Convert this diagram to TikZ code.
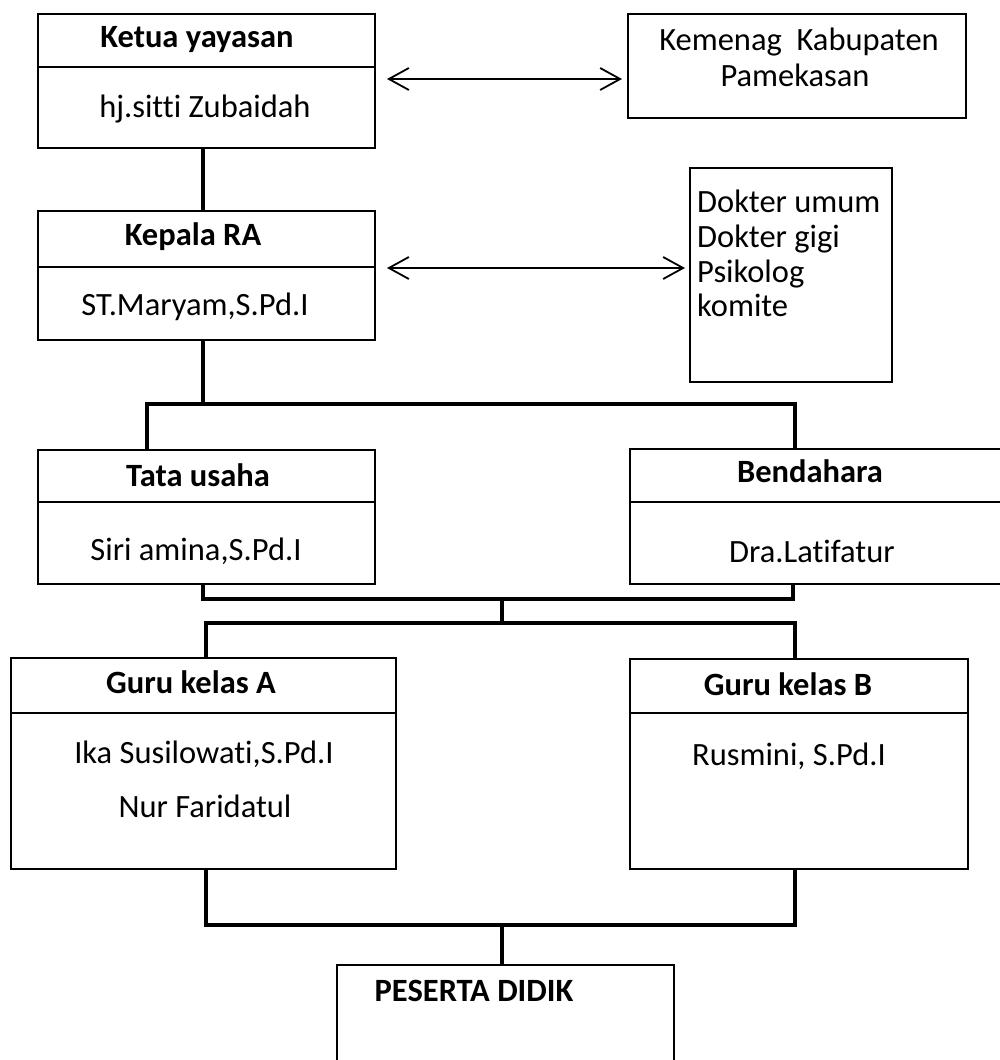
\documentclass[tikz,border=0pt]{standalone}
\usepackage{fontspec}
\setmainfont{Carlito}[Ligatures=NoCommon]
\usetikzlibrary{arrows.meta}
\begin{document}
\begin{tikzpicture}[x=1pt,y=-1pt,
  box/.style={draw, line width=2pt, anchor=north west, inner sep=0pt, outer sep=0pt},
  conn/.style={line width=4pt, line join=miter},
  link/.style={line width=1.8pt, {Straight Barb[length=20pt,width=22pt]}-{Straight Barb[length=20pt,width=22pt]}},
  title/.style={anchor=base, font=\bfseries\fontsize{32.5}{35}\selectfont, inner sep=0pt},
  txt/.style={anchor=base, font=\fontsize{32.5}{35}\selectfont, inner sep=0pt},
  ltxt/.style={anchor=base west, font=\fontsize{32.5}{35}\selectfont, inner sep=0pt},
  divider/.style={line width=2pt}]
\useasboundingbox (0,0) rectangle (1000,1060);
\clip (0,0) rectangle (1000,1060);
% boxes
\node[box, minimum width=337, minimum height=134] (ketua) at (38,14) {};
\node[box, minimum width=338, minimum height=104] (kemenag) at (628,14) {};
\node[box, minimum width=337, minimum height=129] (kepala) at (38,211) {};
\node[box, minimum width=202, minimum height=214] (dokter) at (690,168) {};
\node[box, minimum width=337, minimum height=134] (tata) at (38,450) {};
\node[box, minimum width=380, minimum height=135] (bend) at (630,449) {};
\node[box, minimum width=385, minimum height=211] (guruA) at (11,658) {};
\node[box, minimum width=338, minimum height=210] (guruB) at (630,659) {};
\node[box, minimum width=337, minimum height=130] (peserta) at (337,965) {};
% dividers
\draw[divider] (ketua.west |- 0,67) -- (ketua.east |- 0,67);
\draw[divider] (kepala.west |- 0,267) -- (kepala.east |- 0,267);
\draw[divider] (tata.west |- 0,502) -- (tata.east |- 0,502);
\draw[divider] (bend.west |- 0,502) -- (bend.east |- 0,502);
\draw[divider] (guruA.west |- 0,713) -- (guruA.east |- 0,713);
\draw[divider] (guruB.west |- 0,713) -- (guruB.east |- 0,713);
% texts
\node[title] (tKetua) at (197,47) {Ketua yayasan};
\node[txt] (nKetua) at (205,117) {hj.sitti Zubaidah};
\node[txt] (tKemenag) at (799,50) {Kemenag\ \ Kabupaten};
\node[txt] (tPame) at (795,86) {Pamekasan};
\node[title] (tKepala) at (193,245) {Kepala RA};
\node[txt] (nKepala) at (195,315) {ST.Maryam,S.Pd.I};
\node[ltxt] (d1) at (697,212) {Dokter umum};
\node[ltxt] (d2) at (697,247) {Dokter gigi};
\node[ltxt] (d3) at (697,282) {Psikolog};
\node[ltxt] (d4) at (697,316) {komite};
\node[title] (tTata) at (198,486) {Tata usaha};
\node[txt] (nTata) at (196,560) {Siri amina,S.Pd.I};
\node[title] (tBend) at (810,482) {Bendahara};
\node[txt] (nBend) at (812,562) {Dra.Latifatur};
\node[title] (tGuruA) at (191,693) {Guru kelas A};
\node[txt] (nGuruA1) at (204,763) {Ika Susilowati,S.Pd.I};
\node[txt] (nGuruA2) at (205,817) {Nur Faridatul};
\node[title] (tGuruB) at (788,695) {Guru kelas B};
\node[txt] (nGuruB) at (789,765) {Rusmini, S.Pd.I};
\node[title] (tPeserta) at (474,1001) {PESERTA DIDIK};
% junction coordinates
\coordinate (j1) at (203,404);
\coordinate (j1l) at (147,404);
\coordinate (j1r) at (795,404);
\coordinate (j2l) at (203,599);
\coordinate (j2r) at (793,599);
\coordinate (j2c) at (502,599);
\coordinate (j3c) at (502,623);
\coordinate (j3l) at (206,623);
\coordinate (j3r) at (795,623);
\coordinate (j4l) at (206,925);
\coordinate (j4r) at (795,925);
\coordinate (j4c) at (502,925);
% connectors
\draw[conn] (ketua.south -| j1) -- (kepala.north -| j1);
\draw[conn] (kepala.south -| j1) -- (j1);
\draw[conn] (tata.north -| j1l) -- (j1l) -- (j1r) -- (bend.north -| j1r);
\draw[conn] (tata.south -| j2l) -- (j2l) -- (j2r) -- (bend.south -| j2r);
\draw[conn] (j2c) -- (j3c);
\draw[conn] (guruA.north -| j3l) -- (j3l) -- (j3r) -- (guruB.north -| j3r);
\draw[conn] (guruA.south -| j4l) -- (j4l) -- (j4r) -- (guruB.south -| j4r);
\draw[conn] (j4c) -- (peserta.north -| j4c);
% arrows
\draw[link, shorten <=12pt, shorten >=6pt] (ketua.east |- 0,79) -- (kemenag.west |- 0,79);
\draw[link, shorten <=12pt, shorten >=5pt] (kepala.east |- 0,268) -- (dokter.west |- 0,268);
\end{tikzpicture}
\end{document}
